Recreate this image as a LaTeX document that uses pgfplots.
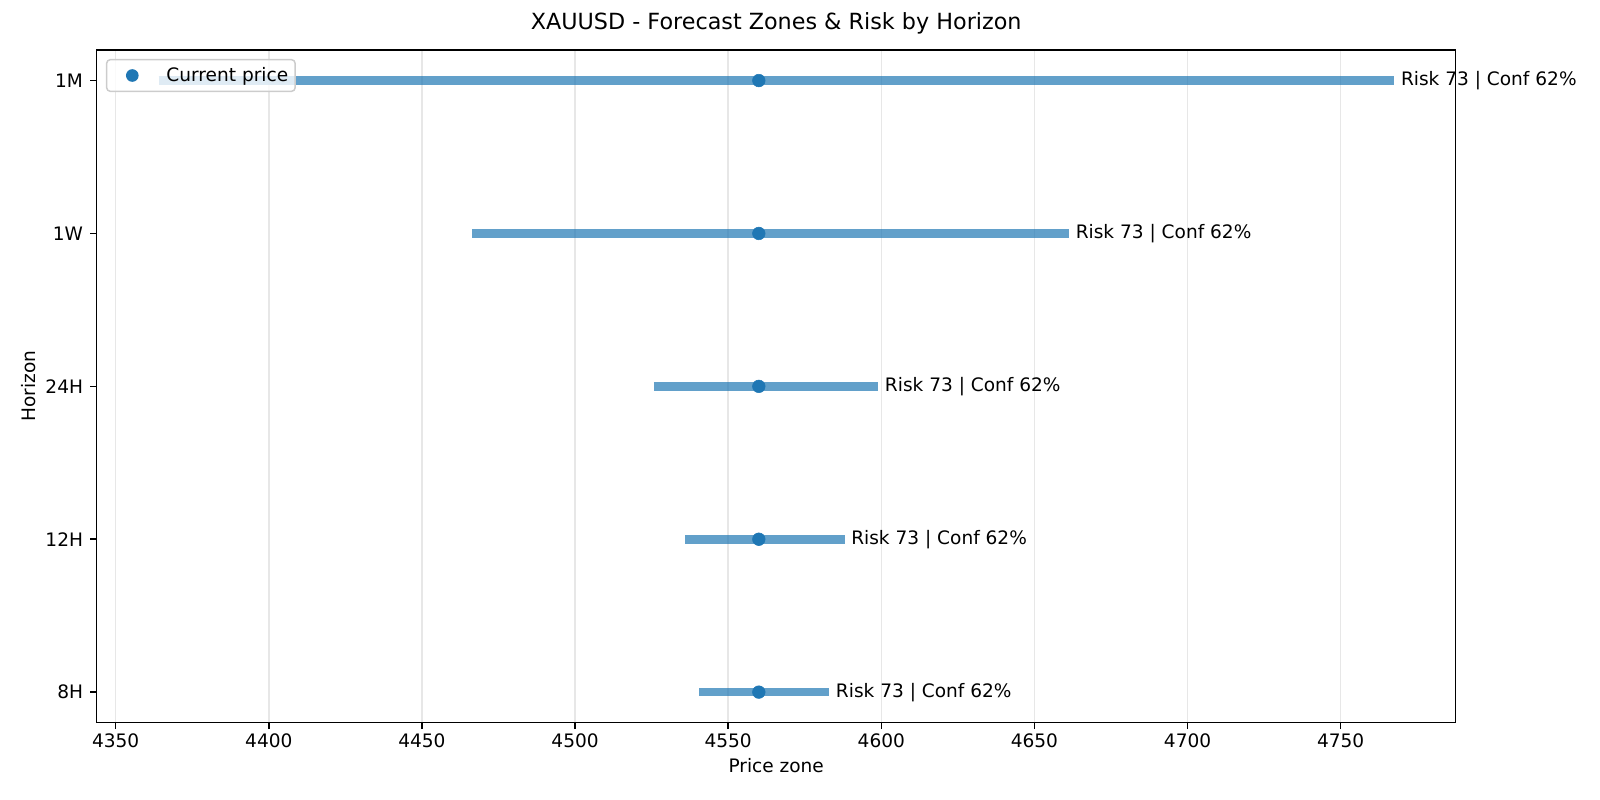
\documentclass[border=0pt]{standalone}
\usepackage{fontspec}
\setmainfont{DejaVu Sans}
\usepackage{pgfplots}
\pgfplotsset{compat=1.18}

\definecolor{tabblue}{HTML}{1F77B4}
\definecolor{gridgray}{HTML}{E7E7E7}
\definecolor{legedge}{HTML}{CCCCCC}

\newcommand{\lbl}{\fontsize{13.4}{16}\selectfont}

\begin{document}
\begin{tikzpicture}
\path[use as bounding box] (-0.967in,-0.773in) rectangle (15.033in,7.227in);
\begin{axis}[
    scale only axis,
    width=13.59in, height=6.727in,
    xmin=4343.8, xmax=4787.55,
    ymin=-0.2, ymax=4.2,
    xtick={4350,4400,...,4750},
    ytick={0,1,2,3,4},
    yticklabels={8H,12H,24H,1W,1M},
    tick pos=left,
    tick align=outside,
    major tick length=4.7pt,
    tick style={black, line width=1.07pt},
    axis line style={line width=1.07pt},
    xmajorgrids=true,
    grid style={gridgray, line width=1.07pt},
    clip=false,
    /pgf/number format/assume math mode=true,
    /pgf/number format/1000 sep={},
    ticklabel style={font=\lbl},
    xticklabel style={anchor=base, inner sep=0pt, yshift=-13.5pt},
    yticklabel style={anchor=east, inner sep=0pt, xshift=-5pt},
    label style={font=\lbl},
    xlabel style={at={(axis description cs:0.5,-0.0743)}, anchor=base},
    ylabel style={at={(axis description cs:-0.0454,0.5)}, anchor=base},
    title style={font=\fontsize{16.1}{19}\selectfont, at={(axis description cs:0.5,1.0178)}, anchor=base},
    title={XAUUSD - Forecast Zones \& Risk by Horizon},
    xlabel={Price zone},
    ylabel={Horizon},
    legend image code/.code={
        \path[draw=none, fill=none] (0pt,-11.4pt) rectangle (38.2pt,11.4pt);
        \fill[tabblue, draw=none, fill opacity=1] (13.5pt,0pt) circle (4.57pt);
    },
    legend style={at={(axis description cs:0,1)}, anchor=north west,
        xshift=6.7pt, yshift=-6.5pt, draw=legedge, line width=1.07pt,
        rounded corners=2.5pt, fill=white, fill opacity=0.8, text opacity=1,
        inner xsep=5pt, inner ysep=0pt, column sep=0pt,
        nodes={inner sep=0pt}, font=\lbl},
]
% forecast zones (low, high) per horizon
\addplot[tabblue, opacity=0.7, line width=6.3pt, forget plot] coordinates {(4540.5,0) (4583,0)};
\addplot[tabblue, opacity=0.7, line width=6.3pt, forget plot] coordinates {(4536,1) (4588,1)};
\addplot[tabblue, opacity=0.7, line width=6.3pt, forget plot] coordinates {(4525.7,2) (4599,2)};
\addplot[tabblue, opacity=0.7, line width=6.3pt, forget plot] coordinates {(4466.5,3) (4661.3,3)};
\addplot[tabblue, opacity=0.7, line width=6.3pt, forget plot] coordinates {(4364,4) (4767.5,4)};

% current price
\addplot[only marks, mark=*, mark size=4.57pt, color=tabblue]
    coordinates {(4560,0) (4560,1) (4560,2) (4560,3) (4560,4)};
\addlegendentry{Current price}

\node[anchor=west, inner sep=0pt, font=\lbl] at (axis cs:4585.1,0) {Risk 73 | Conf 62\%};
\node[anchor=west, inner sep=0pt, font=\lbl] at (axis cs:4590.1,1) {Risk 73 | Conf 62\%};
\node[anchor=west, inner sep=0pt, font=\lbl] at (axis cs:4601.1,2) {Risk 73 | Conf 62\%};
\node[anchor=west, inner sep=0pt, font=\lbl] at (axis cs:4663.4,3) {Risk 73 | Conf 62\%};
\node[anchor=west, inner sep=0pt, font=\lbl] at (axis cs:4769.6,4) {Risk 73 | Conf 62\%};
\end{axis}
\end{tikzpicture}
\end{document}
